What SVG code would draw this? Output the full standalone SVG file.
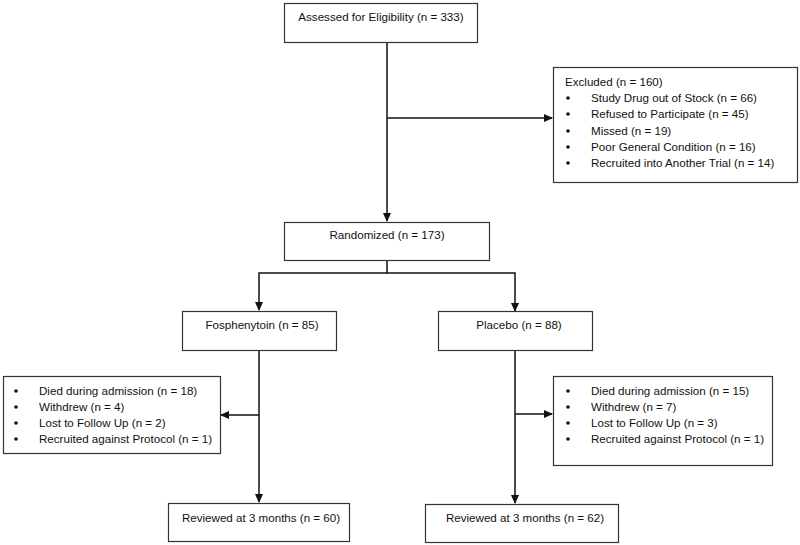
<svg xmlns="http://www.w3.org/2000/svg" width="800" height="545" viewBox="0 0 800 545">
<defs>
<style>
.box{fill:#fff;stroke:#333;stroke-width:1.2}
.t{font-family:"Liberation Sans",Arial,sans-serif;font-size:11.6px;fill:#111}
.m{text-anchor:middle}
.c{stroke:#111;stroke-width:1.5;fill:none}
</style>
<marker id="ah" markerWidth="9" markerHeight="8" refX="8" refY="4" orient="auto" markerUnits="userSpaceOnUse">
<path d="M0,0 L9,4 L0,8 Z" fill="#111"/>
</marker>
</defs>
<rect width="800" height="545" fill="#fff"/>
<g id="connectors">
<path class="c" d="M387,42 V221" marker-end="url(#ah)"/>
<path class="c" d="M387,118 H552" marker-end="url(#ah)"/>
<path class="c" d="M387,260 V273 H259 V310" marker-end="url(#ah)"/>
<path class="c" d="M387,273 H515 V311" marker-end="url(#ah)"/>
<path class="c" d="M259,350 V502" marker-end="url(#ah)"/>
<path class="c" d="M259,415 H221" marker-end="url(#ah)"/>
<path class="c" d="M515,350 V503" marker-end="url(#ah)"/>
<path class="c" d="M515,414 H552" marker-end="url(#ah)"/>
</g>
<g id="assessed">
<rect class="box" x="284.5" y="3.5" width="193" height="39"/>
<text class="t m" x="381" y="21">Assessed for Eligibility (n = 333)</text>
</g>
<g id="excluded">
<rect class="box" x="553.5" y="67.5" width="244" height="115"/>
<text class="t" x="565" y="86">Excluded (n = 160)</text>
<circle cx="568" cy="98" r="1.8" fill="#111"/><text class="t" x="591" y="102">Study Drug out of Stock (n = 66)</text>
<circle cx="568" cy="114" r="1.8" fill="#111"/><text class="t" x="591" y="118">Refused to Participate (n = 45)</text>
<circle cx="568" cy="131" r="1.8" fill="#111"/><text class="t" x="591" y="135">Missed (n = 19)</text>
<circle cx="568" cy="147" r="1.8" fill="#111"/><text class="t" x="591" y="151">Poor General Condition (n = 16)</text>
<circle cx="568" cy="163" r="1.8" fill="#111"/><text class="t" x="591" y="167">Recruited into Another Trial (n = 14)</text>
</g>
<g id="randomized">
<rect class="box" x="284.5" y="222.5" width="205" height="38"/>
<text class="t m" x="387" y="239">Randomized (n = 173)</text>
</g>
<g id="fosphenytoin">
<rect class="box" x="182.5" y="311.5" width="154" height="39"/>
<text class="t m" x="262" y="329">Fosphenytoin (n = 85)</text>
</g>
<g id="placebo">
<rect class="box" x="438.5" y="311.5" width="154" height="39"/>
<text class="t m" x="519" y="329">Placebo (n = 88)</text>
</g>
<g id="fos-excluded">
<rect class="box" x="3.5" y="376.5" width="217" height="77"/>
<circle cx="16" cy="391" r="1.8" fill="#111"/><text class="t" x="39" y="395">Died during admission (n = 18)</text>
<circle cx="16" cy="407" r="1.8" fill="#111"/><text class="t" x="39" y="411">Withdrew (n = 4)</text>
<circle cx="16" cy="423" r="1.8" fill="#111"/><text class="t" x="39" y="427">Lost to Follow Up (n = 2)</text>
<circle cx="16" cy="439" r="1.8" fill="#111"/><text class="t" x="39" y="443">Recruited against Protocol (n = 1)</text>
</g>
<g id="pla-excluded">
<rect class="box" x="553.5" y="376.5" width="219" height="89"/>
<circle cx="568" cy="391" r="1.8" fill="#111"/><text class="t" x="591" y="395">Died during admission (n = 15)</text>
<circle cx="568" cy="407" r="1.8" fill="#111"/><text class="t" x="591" y="411">Withdrew (n = 7)</text>
<circle cx="568" cy="423" r="1.8" fill="#111"/><text class="t" x="591" y="427">Lost to Follow Up (n = 3)</text>
<circle cx="568" cy="439" r="1.8" fill="#111"/><text class="t" x="591" y="443">Recruited against Protocol (n = 1)</text>
</g>
<g id="fos-reviewed">
<rect class="box" x="168.5" y="503.5" width="181" height="38"/>
<text class="t m" x="261" y="522">Reviewed at 3 months (n = 60)</text>
</g>
<g id="pla-reviewed">
<rect class="box" x="425.5" y="504.5" width="193" height="38"/>
<text class="t m" x="525" y="522">Reviewed at 3 months (n = 62)</text>
</g>
</svg>
